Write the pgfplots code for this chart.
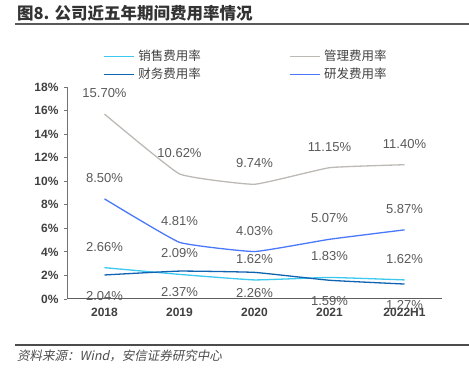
\documentclass[border=0pt]{standalone}
\usepackage{pgfplots}
\pgfplotsset{compat=1.18}
\usepackage{fontspec}
\setmainfont{Liberation Sans}
\newfontfamily\cjk{Noto Sans CJK SC}
\newfontfamily\cjkit{Noto Sans CJK SC}[FakeSlant=0.2]
\definecolor{cxs}{HTML}{3CC8F0}
\definecolor{cgl}{HTML}{BDB9B5}
\definecolor{ccw}{HTML}{0F63B0}
\definecolor{cyf}{HTML}{4A78FA}
\definecolor{lblgray}{HTML}{595959}
\definecolor{axgray}{HTML}{404040}
\begin{document}
\begin{tikzpicture}[x=1pt,y=1pt]
\useasboundingbox (0,0) rectangle (469,375);
\node[anchor=west, inner sep=0, font=\cjk\bfseries\fontsize{16.5}{16.5}\selectfont, text=black!80] at (17,362) {图8. 公司近五年期间费用率情况};
\draw[line width=2pt, black!65] (15,351) -- (469,351);
\draw[line width=1.5pt, black!70] (15,30) -- (469,30);
\node[anchor=west, inner sep=0, font=\cjkit\fontsize{12.5}{12.5}\selectfont, text=black!70] at (17,19) {资料来源：Wind，安信证券研究中心};
\begin{axis}[
  at={(67pt,76pt)}, anchor=south west,
  scale only axis, width=375pt, height=212pt,
  xmin=-0.5, xmax=4.5, ymin=0, ymax=18,
  axis x line*=bottom, axis y line*=left,
  x axis line style={axgray!85, line width=1pt},
  y axis line style={black!55, line width=0.8pt},
  tick align=outside,
  xtick={0,1,2,3,4},
  xticklabels={2018,2019,2020,2021,2022H1},
  x tick label style={font=\bfseries\fontsize{12}{12}\selectfont, text=axgray, yshift=-3pt},
  major x tick style={draw=none},
  extra x ticks={-0.5,0.5,1.5,2.5,3.5,4.5},
  extra x tick labels={},
  extra x tick style={major tick length=4pt, tick style={draw=axgray!85, line width=0.8pt}},
  ytick={0,2,...,18},
  yticklabel={\pgfmathprintnumber{\tick}\%},
  y tick label style={font=\bfseries\fontsize{12}{12}\selectfont, text=axgray, xshift=-2pt},
  major y tick style={draw=black!55, line width=0.8pt},
  major tick length=3pt,
  /pgf/number format/assume math mode=true,
  clip=false,
  legend columns=2,
  legend cell align=left,
  legend image post style={xscale=1.75},
  legend style={at={(0.088,1.193)}, anchor=north west, draw=none, fill=none,
    font=\cjk\fontsize{12.5}{14}\selectfont, row sep=2pt,
    /tikz/every even column/.append style={column sep=86pt},
    /tikz/every odd column/.append style={column sep=2pt}},
  every axis plot/.append style={line width=1.3pt, smooth, tension=0.2, mark=none},
  nodes near coords={\pgfmathprintnumber[fixed,fixed zerofill,precision=2]{\pgfplotspointmeta}\%},
  every node near coord/.append style={font=\fontsize{13}{13}\selectfont, text=lblgray, anchor=center},
]
\addplot[cxs, every node near coord/.append style={yshift=21pt}] coordinates {(0,2.66) (1,2.09) (2,1.62) (3,1.83) (4,1.62)};
\addplot[cgl, every node near coord/.append style={yshift=21pt}] coordinates {(0,15.70) (1,10.62) (2,9.74) (3,11.15) (4,11.40)};
\addplot[ccw, every node near coord/.append style={yshift=-21pt}] coordinates {(0,2.04) (1,2.37) (2,2.26) (3,1.59) (4,1.27)};
\addplot[cyf, every node near coord/.append style={yshift=21pt}] coordinates {(0,8.50) (1,4.81) (2,4.03) (3,5.07) (4,5.87)};
\addlegendimage{empty legend}
\legend{}
\addlegendimage{cxs, line width=1.3pt}
\addlegendentry{\textcolor{axgray}{销售费用率}}
\addlegendimage{cgl, line width=1.3pt}
\addlegendentry{\textcolor{axgray}{管理费用率}}
\addlegendimage{ccw, line width=1.3pt}
\addlegendentry{\textcolor{axgray}{财务费用率}}
\addlegendimage{cyf, line width=1.3pt}
\addlegendentry{\textcolor{axgray}{研发费用率}}
\end{axis}
\end{tikzpicture}
\end{document}
